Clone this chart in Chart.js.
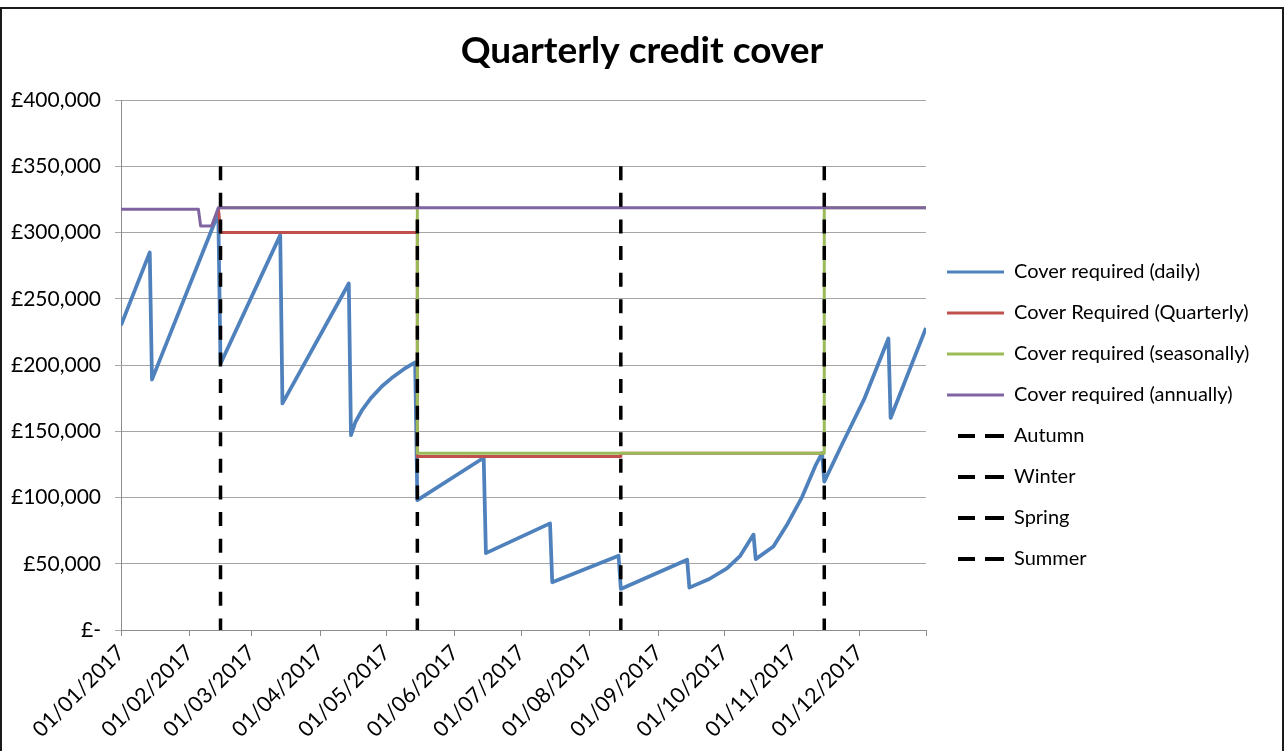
<!DOCTYPE html>
<html><head><meta charset="utf-8">
<script src="https://cdn.jsdelivr.net/npm/chart.js@4.4.1/dist/chart.umd.min.js"></script>
<style>
html,body{margin:0;padding:0;background:#fff;}
#wrap{position:relative;width:1284px;height:751px;overflow:hidden;}
#frame{position:absolute;left:0;top:7px;width:1284px;height:800px;box-sizing:border-box;border:2px solid #1a1a1a;pointer-events:none;}
canvas{position:absolute;left:0;top:0;}
</style></head><body>
<div id="wrap"><canvas id="c" width="1284" height="751"></canvas><div id="frame"></div></div>
<script>
// ---- data (dates dd/mm in 2017, values in GBP) ----
const dailyDates  = ['01/01','14/01','15/01','14/02','15/02','14/03','15/03','14/04','15/04','17/04','20/04','24/04','29/04','04/05','09/05','14/05','15/05','14/06','15/06','14/07','15/07','14/08','15/08','14/09','15/09','24/09','02/10','08/10','14/10','15/10','23/10','29/10','05/11','11/11','14/11','15/11','23/11','03/12','14/12','15/12','31/12'];
const dailyValues = [230000,285000,189000,314500,201000,298000,171000,261500,147000,157000,166000,175000,184000,191000,197000,202000,98000,130000,58000,80500,36000,56000,31000,53000,32000,38500,46500,56000,72000,53500,63000,79000,100500,124000,133500,112000,140000,174000,220000,160000,228000];

const quarterlyDates  = ['14/02','15/02','15/05','15/05','15/08','15/08','15/11'];
const quarterlyValues = [318700,300000,300000,131000,131000,133400,133400];

const seasonalDates  = ['15/02','15/05','15/05','15/11','15/11','31/12'];
const seasonalValues = [318700,318700,133400,133400,318700,318700];

const annualDates  = ['01/01','05/02','06/02','11/02','14/02','31/12'];
const annualValues = [317500,317500,305000,305000,318700,318700];

const seasonNames = ['Autumn','Winter','Spring','Summer'];
const seasonDates = ['15/08','15/11','15/02','15/05'];
const seasonLineRange = [350000, 0];

const seriesLabels = ['Cover required (daily)','Cover Required (Quarterly)','Cover required (seasonally)','Cover required (annually)'];
const monthTickDates = ['01/01','01/02','01/03','01/04','01/05','01/06','01/07','01/08','01/09','01/10','01/11','01/12','31/12'];
const monthTickLabels = ['01/01/2017','01/02/2017','01/03/2017','01/04/2017','01/05/2017','01/06/2017','01/07/2017','01/08/2017','01/09/2017','01/10/2017','01/11/2017','01/12/2017',''];
const yTickValues = [0,50000,100000,150000,200000,250000,300000,350000,400000];

// ---- helpers ----
const toDay = s => { const [d,m] = s.split('/').map(Number); return Math.round((Date.UTC(2017,m-1,d)-Date.UTC(2017,0,1))/86400000); };
const pts = (dates, vals) => dates.map((d,i) => ({x: toDay(d), y: vals[i]}));
const tickDays = monthTickDates.map(toDay);
const labelByDay = {}; tickDays.forEach((d,i) => labelByDay[d] = monthTickLabels[i]);

const FONT = 'Lato, "Open Sans", sans-serif';
const colors = ['#4F81BD','#C0504D','#9BBB59','#8064A2'];
const widths = [3.75, 3, 3, 3];
const seriesData = [pts(dailyDates,dailyValues), pts(quarterlyDates,quarterlyValues), pts(seasonalDates,seasonalValues), pts(annualDates,annualValues)];

const datasets = seriesLabels.map((lab,i) => ({
  label: lab, data: seriesData[i], borderColor: colors[i], backgroundColor: colors[i],
  borderWidth: widths[i], order: 4 - i
}));
seasonNames.forEach((n,i) => datasets.push({
  label: n,
  data: seasonLineRange.map(v => ({x: toDay(seasonDates[i]), y: v})),
  borderColor: '#000', backgroundColor: '#000', borderWidth: 3.5, borderDash: [14,12.6], order: 0
}));

const LEGEND_WIDTH = 358;
const legendWidthPlugin = {
  id: 'legendWidth',
  beforeLayout(chart) {
    const lg = chart.legend;
    if (lg && !lg._wPatched) {
      const orig = lg.fit.bind(lg);
      lg.fit = function() { orig(); this.width = LEGEND_WIDTH; };
      lg._wPatched = true;
    }
  }
};

new Chart(document.getElementById('c'), {
  type: 'line',
  data: { datasets },
  plugins: [legendWidthPlugin],
  options: {
    responsive: false, animation: false, devicePixelRatio: 1,
    layout: { padding: 0 },
    elements: { point: { radius: 0, hoverRadius: 0 }, line: { tension: 0, borderJoinStyle: 'round', fill: false } },
    plugins: {
      title: { display: true, text: 'Quarterly credit cover', color: '#000',
        font: { family: FONT, size: 37, weight: 'bold' }, padding: { top: 29, bottom: 26.6 } },
      legend: {
        position: 'right', align: 'center',
        title: { display: true, text: '', padding: { top: 68, bottom: 0 }, font: { size: 10 } },
        labels: {
          usePointStyle: true, pointStyle: 'line', pointStyleWidth: 57, padding: 21,
          color: '#000', font: { family: FONT, size: 20 },
          sort: (a,b) => a.datasetIndex - b.datasetIndex,
          generateLabels: chart => {
            const items = Chart.defaults.plugins.legend.labels.generateLabels(chart);
            items.forEach(it => {
              const ds = chart.data.datasets[it.datasetIndex];
              if (ds.borderDash) { it.lineDash = [17,10,19,11]; it.lineDashOffset = 46; it.lineWidth = 4; }
              else { it.lineWidth = 3; }
            });
            return items;
          }
        }
      },
      tooltip: { enabled: false }
    },
    scales: {
      x: {
        type: 'linear', min: tickDays[0], max: tickDays[tickDays.length-1],
        afterBuildTicks: s => { s.ticks = tickDays.map(v => ({ value: v })); },
        afterFit: s => { s.height = 121; },
        ticks: { autoSkip: false, maxRotation: 45, minRotation: 45, padding: 4, color: '#000',
          font: { family: FONT, size: 21.5 }, callback: v => labelByDay[v] ?? '' },
        grid: { drawOnChartArea: false, drawTicks: true, tickLength: 6, color: '#8c8c8c' },
        border: { color: '#8c8c8c', width: 1 }
      },
      y: {
        min: yTickValues[0], max: yTickValues[yTickValues.length-1],
        afterBuildTicks: s => { s.ticks = yTickValues.map(v => ({ value: v })); },
        afterFit: s => { s.width = 121; },
        ticks: { padding: 14, color: '#000', font: { family: FONT, size: 21 },
          callback: v => v === 0 ? '£-' : '£' + v.toLocaleString('en-GB') },
        grid: { color: '#a6a6a6', tickLength: 6 },
        border: { color: '#8c8c8c' }
      }
    }
  }
});
</script>
</body></html>
